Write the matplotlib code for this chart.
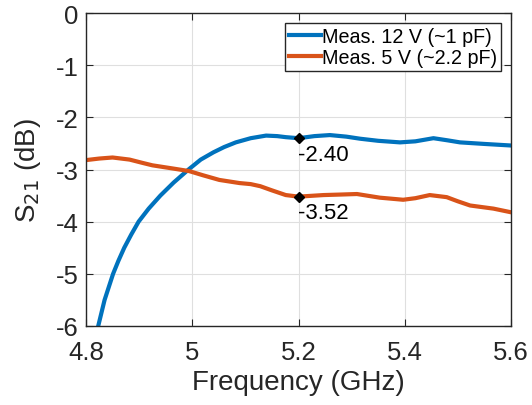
import matplotlib
matplotlib.use("Agg")
import matplotlib.pyplot as plt

plt.rcParams['font.family'] = ['Liberation Sans', 'DejaVu Sans']
plt.rcParams['axes.unicode_minus'] = False

f_12v = [4.823, 4.829, 4.835, 4.843, 4.851, 4.861, 4.872, 4.885, 4.899, 4.918, 4.940, 4.965,
         4.993, 5.016, 5.040, 5.060, 5.082, 5.110, 5.139, 5.160, 5.176, 5.200, 5.230, 5.259,
         5.290, 5.316, 5.350, 5.391, 5.420, 5.454, 5.480, 5.504, 5.550, 5.600]
s_12v = [-6.00, -5.75, -5.50, -5.25, -5.00, -4.75, -4.50, -4.25, -4.00, -3.75, -3.50, -3.25,
         -3.00, -2.81, -2.67, -2.57, -2.48, -2.40, -2.35, -2.36, -2.38, -2.40, -2.36, -2.34,
         -2.37, -2.41, -2.45, -2.48, -2.46, -2.40, -2.44, -2.48, -2.51, -2.54]

f_5v = [4.800, 4.825, 4.850, 4.882, 4.905, 4.925, 4.963, 4.994, 5.020, 5.051, 5.089, 5.110,
        5.128, 5.150, 5.176, 5.200, 5.247, 5.280, 5.310, 5.353, 5.397, 5.420, 5.447, 5.479,
        5.500, 5.523, 5.567, 5.600]
s_5v = [-2.82, -2.79, -2.77, -2.81, -2.87, -2.92, -2.98, -3.03, -3.11, -3.20, -3.26, -3.28,
        -3.32, -3.40, -3.49, -3.52, -3.49, -3.48, -3.47, -3.54, -3.58, -3.55, -3.49, -3.53,
        -3.61, -3.69, -3.75, -3.82]

marker_f = 5.2
marker_12v = -2.40
marker_5v = -3.52

xticks = [4.8, 5.0, 5.2, 5.4, 5.6]
xticklabels = ['4.8', '5', '5.2', '5.4', '5.6']
yticks = [0, -1, -2, -3, -4, -5, -6]

fig = plt.figure(figsize=(5.32, 4.06), dpi=100)
ax = fig.add_axes([86/532, 1-327/406, 425/532, 313/406])

ax.plot(f_12v, s_12v, color='#0072BD', lw=3.0, label='Meas. 12 V (~1 pF)')
ax.plot(f_5v, s_5v, color='#D95319', lw=3.0, label='Meas. 5 V (~2.2 pF)')

ax.plot([marker_f], [marker_12v], marker='D', color='black', ms=5.5, zorder=5)
ax.plot([marker_f], [marker_5v], marker='D', color='black', ms=5.5, zorder=5)
ax.annotate(f'{marker_12v:.2f}', (marker_f, marker_12v), xytext=(-0.5, -4), textcoords='offset points',
            ha='left', va='top', fontsize=16)
ax.annotate(f'{marker_5v:.2f}', (marker_f, marker_5v), xytext=(-0.5, -4), textcoords='offset points',
            ha='left', va='top', fontsize=16)

ax.set_xlim(4.8, 5.6)
ax.set_ylim(-6, 0)
ax.set_xticks(xticks)
ax.set_xticklabels(xticklabels)
ax.set_yticks(yticks)
ax.grid(True, color='#DFDFDF', lw=0.8)
ax.set_axisbelow(True)
ax.tick_params(direction='in', top=True, right=True, labelsize=18.5, length=5, color='#262626',
               labelcolor='#262626')
ax.tick_params(axis='x', pad=10)
ax.tick_params(axis='y', pad=5.5)
for s in ax.spines.values():
    s.set_color('#262626')
    s.set_linewidth(1.0)

ax.set_xlabel('Frequency (GHz)', fontsize=20, color='#262626', labelpad=4)
ax.set_ylabel('S$_{21}$ (dB)', fontsize=20, color='#262626', labelpad=9)

leg = ax.legend(loc='upper right', fontsize=14.2, frameon=True, fancybox=False, edgecolor='#262626',
                handlelength=1.65, handletextpad=0.05, borderpad=0.2, labelspacing=0.1,
                borderaxespad=0.5, framealpha=1)
leg.get_frame().set_linewidth(1.0)

fig.savefig('out.png', dpi=100)
